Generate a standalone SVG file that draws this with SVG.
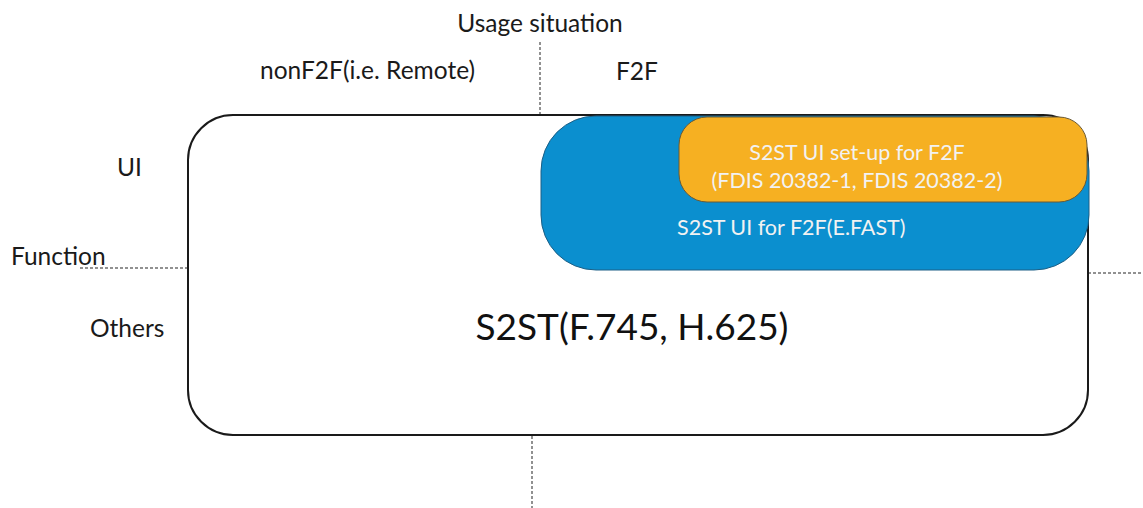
<svg xmlns="http://www.w3.org/2000/svg" width="1143" height="508" viewBox="0 0 1143 508">
  <style>
    text { font-family: Lato, "Open Sans", "Liberation Sans", sans-serif; }
    .lbl { font-size: 24.5px; fill: #1a1a1a; }
    .inner { font-size: 21.5px; fill: #f2f2f2; }
    .axis { stroke: #6e6e6e; stroke-width: 1.5; stroke-dasharray: 3 2; fill: none; }
  </style>

  <!-- axis guides -->
  <g id="connectors">
    <line class="axis" x1="540" y1="42" x2="540" y2="115"/>
    <line class="axis" x1="532" y1="436" x2="532" y2="508"/>
    <line class="axis" x1="80" y1="268" x2="188" y2="268"/>
    <line class="axis" x1="1088" y1="273" x2="1143" y2="273"/>
  </g>

  <!-- axis labels -->
  <g id="axis-labels">
    <text class="lbl" x="540" y="32" text-anchor="middle">Usage situation</text>
    <text class="lbl" x="260" y="79">nonF2F(i.e. Remote)</text>
    <text class="lbl" x="616" y="80">F2F</text>
    <text class="lbl" x="117" y="176">UI</text>
    <text class="lbl" x="11" y="265">Function</text>
    <text class="lbl" x="90" y="337">Others</text>
  </g>

  <!-- S2ST overall scope -->
  <g id="node-s2st">
    <rect x="188" y="115" width="900" height="320" rx="45" ry="45" fill="#ffffff" stroke="#1a1a1a" stroke-width="2"/>
    <text x="632" y="340" text-anchor="middle" font-size="37" fill="#111">S2ST(F.745, H.625)</text>
  </g>

  <!-- S2ST UI for F2F -->
  <g id="node-ui-f2f">
    <rect x="541" y="116" width="548" height="154" rx="55" ry="55" fill="#0b8fcf" stroke="#1c5f86" stroke-width="1"/>
    <text class="inner" x="677" y="235">S2ST UI for F2F(E.FAST)</text>
  </g>

  <!-- S2ST UI set-up for F2F -->
  <g id="node-ui-setup">
    <rect x="679" y="117" width="408" height="85" rx="28" ry="28" fill="#f6b022" stroke="#6b5a35" stroke-width="1"/>
    <text class="inner" x="857" y="160" text-anchor="middle">S2ST UI set-up for F2F</text>
    <text class="inner" x="857" y="188" text-anchor="middle">(FDIS 20382-1, FDIS 20382-2)</text>
  </g>
</svg>
